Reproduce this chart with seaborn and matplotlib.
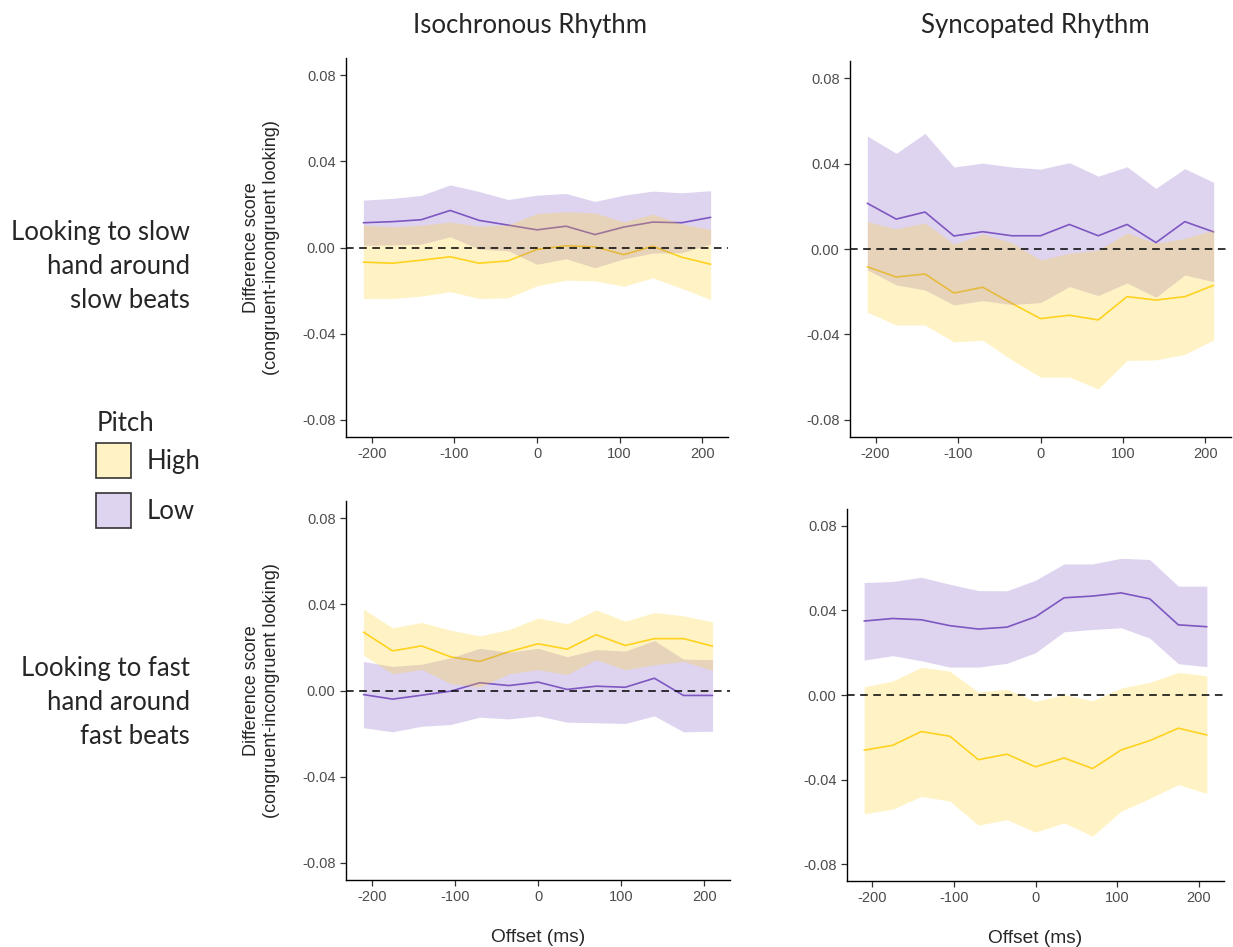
import pandas as pd
import matplotlib.pyplot as plt
import seaborn as sns
from matplotlib.patches import Patch
from matplotlib.colors import to_rgba

# =========================
# DATA
# =========================

offset = [-210, -175, -140, -105, -70, -35, 0, 35, 70, 105, 140, 175, 210]

# isochronous rhythm, looking to slow hand
iso_slow_high = [-0.0068, -0.0073, -0.0059, -0.0043, -0.0073, -0.0062, -0.0009, 0.0008, 0.0003, -0.0033, 0.0006, -0.0045, -0.0078]
iso_slow_high_hi = [0.0104, 0.0096, 0.0104, 0.0118, 0.0099, 0.0105, 0.0158, 0.0166, 0.0161, 0.0119, 0.0155, 0.0109, 0.0084]
iso_slow_high_lo = [-0.0237, -0.0237, -0.0226, -0.0205, -0.0237, -0.0234, -0.0178, -0.0152, -0.0155, -0.0180, -0.0141, -0.0190, -0.0242]
iso_slow_low = [0.0115, 0.0120, 0.0129, 0.0172, 0.0126, 0.0104, 0.0082, 0.0099, 0.0060, 0.0095, 0.0118, 0.0115, 0.0140]
iso_slow_low_hi = [0.0220, 0.0228, 0.0242, 0.0291, 0.0260, 0.0223, 0.0243, 0.0251, 0.0214, 0.0243, 0.0262, 0.0254, 0.0264]
iso_slow_low_lo = [0.0010, 0.0012, 0.0015, 0.0050, -0.0008, -0.0015, -0.0078, -0.0052, -0.0094, -0.0053, -0.0026, -0.0024, 0.0016]

# syncopated rhythm, looking to slow hand
syn_slow_high = [-0.0083, -0.0131, -0.0117, -0.0206, -0.0179, -0.0254, -0.0326, -0.0310, -0.0332, -0.0223, -0.0239, -0.0223, -0.0170]
syn_slow_high_hi = [0.0128, 0.0094, 0.0122, 0.0023, 0.0070, 0.0030, -0.0051, -0.0020, -0.0005, 0.0075, 0.0027, 0.0050, 0.0089]
syn_slow_high_lo = [-0.0296, -0.0356, -0.0356, -0.0435, -0.0427, -0.0519, -0.0600, -0.0600, -0.0655, -0.0522, -0.0519, -0.0493, -0.0426]
syn_slow_low = [0.0214, 0.0140, 0.0173, 0.0061, 0.0081, 0.0062, 0.0062, 0.0115, 0.0062, 0.0115, 0.0030, 0.0128, 0.0080]
syn_slow_low_hi = [0.0529, 0.0448, 0.0541, 0.0384, 0.0402, 0.0384, 0.0374, 0.0404, 0.0341, 0.0385, 0.0284, 0.0376, 0.0312]
syn_slow_low_lo = [-0.0098, -0.0168, -0.0192, -0.0262, -0.0242, -0.0260, -0.0251, -0.0176, -0.0218, -0.0159, -0.0226, -0.0122, -0.0153]

# isochronous rhythm, looking to fast hand
iso_fast_high = [0.0271, 0.0184, 0.0207, 0.0156, 0.0135, 0.0180, 0.0217, 0.0192, 0.0259, 0.0209, 0.0241, 0.0241, 0.0206]
iso_fast_high_hi = [0.0378, 0.0291, 0.0316, 0.0280, 0.0254, 0.0283, 0.0337, 0.0310, 0.0375, 0.0322, 0.0362, 0.0347, 0.0319]
iso_fast_high_lo = [0.0164, 0.0077, 0.0098, 0.0032, 0.0016, 0.0077, 0.0097, 0.0074, 0.0143, 0.0096, 0.0120, 0.0135, 0.0093]
iso_fast_low = [-0.0019, -0.0040, -0.0022, -0.0003, 0.0036, 0.0023, 0.0039, 0.0005, 0.0020, 0.0015, 0.0057, -0.0023, -0.0023]
iso_fast_low_hi = [0.0135, 0.0112, 0.0122, 0.0152, 0.0196, 0.0178, 0.0196, 0.0157, 0.0190, 0.0183, 0.0232, 0.0146, 0.0143]
iso_fast_low_lo = [-0.0173, -0.0192, -0.0166, -0.0158, -0.0124, -0.0132, -0.0118, -0.0147, -0.0150, -0.0153, -0.0118, -0.0192, -0.0189]

# syncopated rhythm, looking to fast hand
syn_fast_high = [-0.0261, -0.0238, -0.0173, -0.0195, -0.0306, -0.0280, -0.0340, -0.0298, -0.0348, -0.0260, -0.0216, -0.0157, -0.0189]
syn_fast_high_hi = [0.0039, 0.0066, 0.0131, 0.0113, 0.0014, 0.0027, -0.0030, 0.0002, -0.0027, 0.0033, 0.0060, 0.0107, 0.0091]
syn_fast_high_lo = [-0.0562, -0.0540, -0.0480, -0.0502, -0.0616, -0.0590, -0.0649, -0.0605, -0.0668, -0.0550, -0.0490, -0.0424, -0.0466]
syn_fast_low = [0.0350, 0.0362, 0.0356, 0.0328, 0.0312, 0.0321, 0.0370, 0.0460, 0.0468, 0.0483, 0.0455, 0.0332, 0.0323]
syn_fast_low_hi = [0.0532, 0.0537, 0.0557, 0.0524, 0.0494, 0.0493, 0.0543, 0.0620, 0.0620, 0.0647, 0.0641, 0.0515, 0.0515]
syn_fast_low_lo = [0.0165, 0.0186, 0.0162, 0.0132, 0.0132, 0.0150, 0.0200, 0.0299, 0.0310, 0.0318, 0.0269, 0.0148, 0.0134]

pitch_levels = ["High", "Low"]
colors = {"High": "#FFD21F", "Low": "#7E57C2"}

col_titles = ["Isochronous Rhythm", "Syncopated Rhythm"]
row_titles = ["Looking to slow\nhand around\nslow beats",
              "Looking to fast\nhand around\nfast beats"]
y_ticks = [-0.08, -0.04, 0.0, 0.04, 0.08]
x_ticks = [-200, -100, 0, 100, 200]

panels = [
    (iso_slow_high, iso_slow_high_lo, iso_slow_high_hi, iso_slow_low, iso_slow_low_lo, iso_slow_low_hi),
    (syn_slow_high, syn_slow_high_lo, syn_slow_high_hi, syn_slow_low, syn_slow_low_lo, syn_slow_low_hi),
    (iso_fast_high, iso_fast_high_lo, iso_fast_high_hi, iso_fast_low, iso_fast_low_lo, iso_fast_low_hi),
    (syn_fast_high, syn_fast_high_lo, syn_fast_high_hi, syn_fast_low, syn_fast_low_lo, syn_fast_low_hi),
]

# =========================
# STYLE
# =========================

sns.set_style("ticks")
plt.rcParams['font.family'] = ['Liberation Sans', 'DejaVu Sans']
plt.rcParams['axes.unicode_minus'] = False
outer_font = {'family': 'Lato', 'size': 18.5}

W, H = 1233, 947
fig = plt.figure(figsize=(W / 100, H / 100), dpi=100)

# panel boxes in pixels: left, top, right, bottom
boxes = [(346, 58, 728, 437), (850, 61, 1231, 437),
         (346, 501, 730, 880), (847, 509, 1224, 881)]

# =========================
# PANELS
# =========================

for i, (box, vals) in enumerate(zip(boxes, panels)):
    l, t, r, b = box
    ax = fig.add_axes([l / W, 1 - b / H, (r - l) / W, (b - t) / H])
    high, high_lo, high_hi, low, low_lo, low_hi = vals

    df = pd.DataFrame({
        "Offset": offset * 2,
        "Score": high + low,
        "Pitch": ["High"] * len(offset) + ["Low"] * len(offset),
    })
    sns.lineplot(data=df, x="Offset", y="Score", hue="Pitch",
                 hue_order=pitch_levels, palette=colors,
                 linewidth=1.2, legend=False, ax=ax, zorder=1)

    # ribbons go over the lines, as in the original
    ax.fill_between(offset, low_lo, low_hi, color=colors["Low"],
                    alpha=0.25, linewidth=0, zorder=2)
    ax.fill_between(offset, high_lo, high_hi, color=colors["High"],
                    alpha=0.25, linewidth=0, zorder=2)

    ax.axhline(0, color="black", lw=1.1, ls=(0, (5, 3.6)), zorder=3)

    ax.set_xlim(-231, 231)
    ax.set_ylim(-0.088, 0.088)
    ax.set_xticks(x_ticks)
    ax.set_yticks(y_ticks)
    ax.set_yticklabels([f"{v:.2f}" for v in y_ticks])
    ax.tick_params(labelsize=10.5, labelcolor="#4D4D4D", color="#333333",
                   length=4, width=0.9, direction="out")
    for s in ["left", "bottom"]:
        ax.spines[s].set_linewidth(1.0)
        ax.spines[s].set_color("black")
    sns.despine(ax=ax)

    if i % 2 == 0:
        ax.set_ylabel("Difference score\n(congruent-incongruent looking)",
                      fontsize=13, labelpad=16)
    else:
        ax.set_ylabel("")
    if i >= 2:
        ax.set_xlabel("Offset (ms)", fontsize=13.8, labelpad=18)
    else:
        ax.set_xlabel("")

# =========================
# OUTER LABELS
# =========================

fig.text(530 / W, 1 - 25 / H, col_titles[0], ha="center", va="center", **outer_font)
fig.text(1035 / W, 1 - 25 / H, col_titles[1], ha="center", va="center", **outer_font)
fig.text(190 / W, 1 - 266 / H, row_titles[0], ha="right", va="center",
         linespacing=1.45, **outer_font)
fig.text(190 / W, 1 - 702 / H, row_titles[1], ha="right", va="center",
         linespacing=1.45, **outer_font)

# legend: title as plain text, boxes via fig.legend
fig.text(97 / W, 1 - 423 / H, "Pitch", ha="left", va="center", **outer_font)
handles = [Patch(facecolor=to_rgba(colors[p], 0.25), edgecolor="#333333", linewidth=1.2)
           for p in pitch_levels]
leg = fig.legend(handles, pitch_levels, loc="upper left",
                 bbox_to_anchor=(96 / W, 1 - 443 / H), frameon=False,
                 prop=outer_font, handlelength=1.36, handleheight=1.72,
                 labelspacing=0.6, handletextpad=0.62, borderpad=0,
                 borderaxespad=0)

plt.savefig("out.png", dpi=100)
